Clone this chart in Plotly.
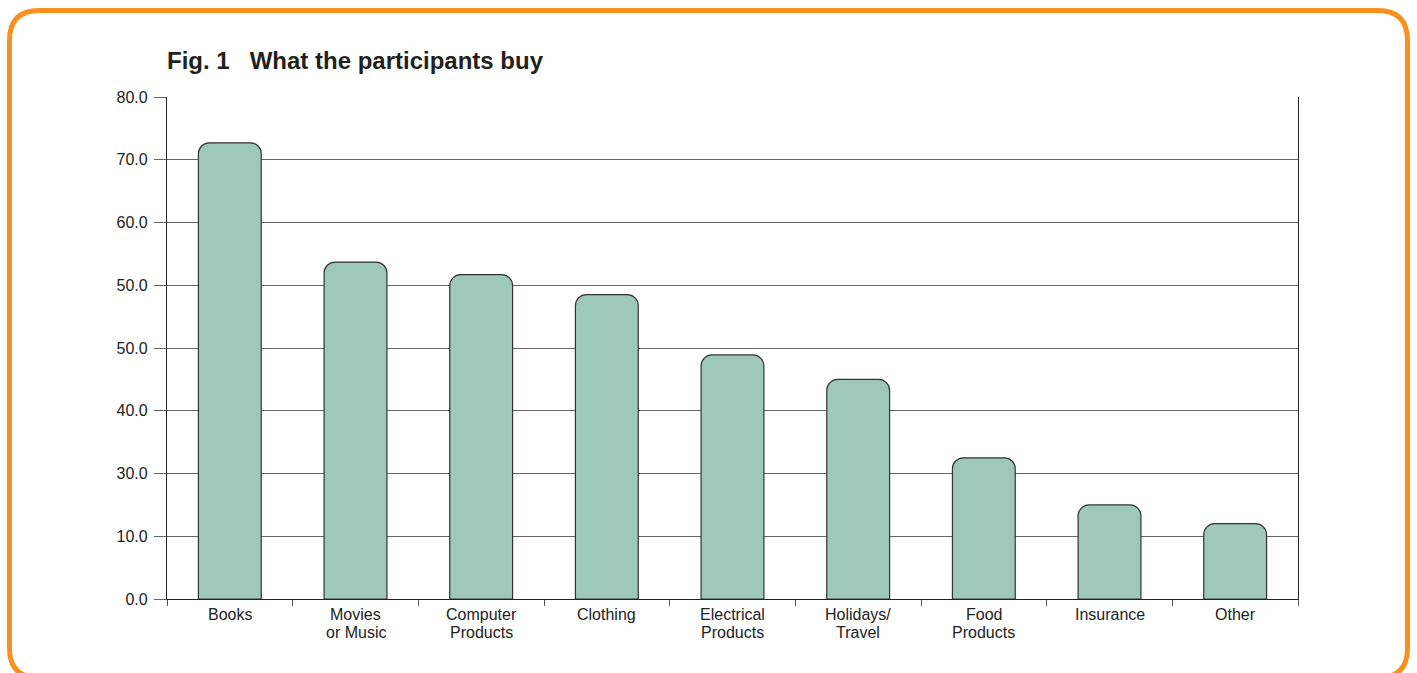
import plotly.graph_objects as go

categories = ["Books", "Movies<br>or Music", "Computer<br>Products", "Clothing",
              "Electrical<br>Products", "Holidays/<br>Travel", "Food<br>Products",
              "Insurance", "Other"]
values = [72.7, 53.7, 51.7, 48.5, 38.9, 35.0, 22.5, 15.0, 12.0]
tick_vals = [0, 10, 20, 30, 40, 50, 60, 70, 80]
tick_text = ["0.0", "10.0", "30.0", "40.0", "50.0", "50.0", "60.0", "70.0", "80.0"]

W, H = 1417, 673
L, R, T, B = 167, 1298, 97, 599

fig = go.Figure(go.Bar(
    x=categories, y=values,
    marker=dict(color="#9DC8BA", line=dict(color="#333333", width=1.2)),
    width=0.5,
))

def px(x):
    return (x - L) / (R - L)

def py(y):
    return (B - y) / (B - T)

# category labels, one annotation per line for tight line spacing
annotations = []
for cat in categories:
    for i, line in enumerate(cat.split("<br>")):
        annotations.append(dict(
            x=cat, xref="x", y=py(614 + 18 * i), yref="paper",
            text=line, showarrow=False, xanchor="center", yanchor="middle",
            font=dict(size=16, color="#222222"),
        ))

# rounded orange frame
x0, x1, y0, y1, r = 9.5, 1407.5, 10.5, 678, 30
pts = [
    ("M", [(x0 + r, y0)]),
    ("L", [(x1 - r, y0)]),
    ("Q", [(x1, y0), (x1, y0 + r)]),
    ("L", [(x1, y1 - r)]),
    ("Q", [(x1, y1), (x1 - r, y1)]),
    ("L", [(x0 + r, y1)]),
    ("Q", [(x0, y1), (x0, y1 - r)]),
    ("L", [(x0, y0 + r)]),
    ("Q", [(x0, y0), (x0 + r, y0)]),
]
path = " ".join(c + " " + " ".join(f"{px(a):.5f},{py(b):.5f}" for a, b in p) for c, p in pts) + " Z"

fig.update_layout(
    width=W, height=H,
    margin=dict(l=L, r=W - R, t=T, b=H - B),
    paper_bgcolor="white", plot_bgcolor="white",
    showlegend=False,
    barcornerradius=11,
    font=dict(family="Liberation Sans, Arial, sans-serif", size=15, color="#222222"),
    title=dict(
        text="<b>Fig. 1\u00a0\u00a0\u00a0What the participants buy</b>",
        x=px(167), xref="paper", xanchor="left",
        y=1 - 61 / H, yanchor="middle", yref="container",
        font=dict(size=24, color="#231f20"),
    ),
    annotations=annotations,
    shapes=[dict(type="path", xref="paper", yref="paper", path=path,
                 line=dict(color="#F7901E", width=5), layer="above")],
)
fig.update_xaxes(
    showline=True, linecolor="#222222", linewidth=1.2,
    ticks="outside", tickson="boundaries", ticklen=6, tickcolor="#555555",
    mirror=False, showgrid=False, showticklabels=False,
)
fig.update_yaxes(
    range=[0, 80], tickvals=tick_vals, ticktext=tick_text,
    showgrid=True, gridcolor="#666666", gridwidth=1,
    showline=True, linecolor="#222222", linewidth=1.2, mirror=True,
    ticks="outside", ticklen=12, tickcolor="#666666",
    zeroline=False, tickfont=dict(size=16), ticklabelstandoff=3,
)

fig.write_html("out.html")
